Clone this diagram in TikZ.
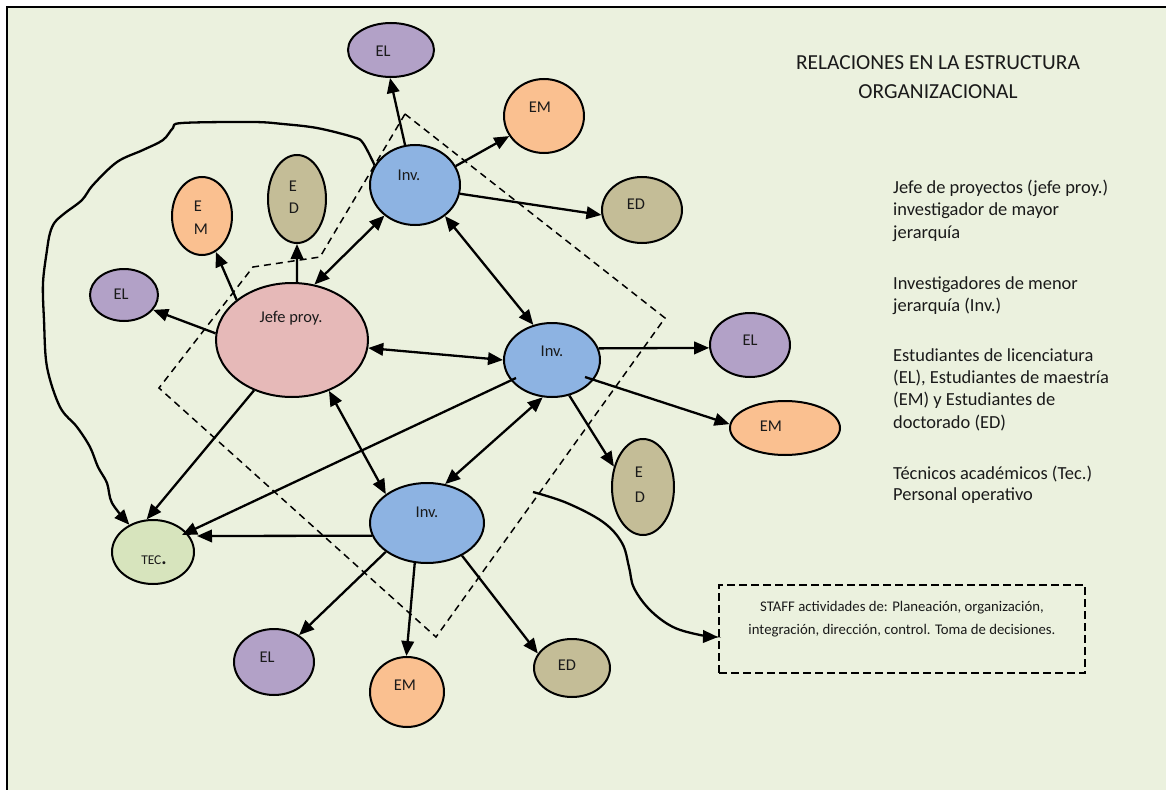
\documentclass[tikz,border=0pt]{standalone}
\usepackage{fontspec}
\setmainfont{Carlito}
\usetikzlibrary{arrows.meta,calc,shapes.geometric}

\definecolor{bgGreen}{HTML}{EBF1DE}
\definecolor{cPur}{HTML}{B2A1C7}
\definecolor{cOra}{HTML}{FAC090}
\definecolor{cTan}{HTML}{C4BD97}
\definecolor{cBlu}{HTML}{8DB3E2}
\definecolor{cPnk}{HTML}{E6B9B8}
\definecolor{cTec}{HTML}{D7E4BD}
\definecolor{ink}{HTML}{1A1A1A}

\begin{document}
\begin{tikzpicture}[x=1bp, y=-1bp,
  bub/.style={ellipse, draw=black, line width=2bp, inner sep=0pt},
  lab/.style={inner sep=0pt, text height=10.6bp, text depth=0pt, text=ink,
              font=\fontsize{16.5}{18}\selectfont},
  tip/.tip={Triangle[length=15bp,width=12.5bp]},
  link/.style={line width=2.3bp, -tip},
  dlink/.style={line width=2.3bp, tip-tip},
  zone/.style={line width=1.5bp, dash pattern=on 7bp off 5bp},
  legend/.style={inner sep=0pt, text=ink, font=\fontsize{18.5}{22}\selectfont},
  heading/.style={inner sep=0pt, text=ink, font=\fontsize{21.5}{26}\selectfont},
  stafftxt/.style={inner sep=0pt, text=ink, font=\fontsize{14.8}{18}\selectfont},
  staffbox/.style={draw=black, line width=2bp, dash pattern=on 8bp off 4bp, inner sep=0pt}
]
\useasboundingbox (0,0) rectangle (1166,790);
\fill[white] (0,0) rectangle (1166,790);
\begin{scope}
  \clip (0,0) rectangle (1166,790);
  \draw[line width=2.5bp, fill=bgGreen] (7,7) rectangle (1185,805);
\end{scope}

% dashed zone around the research team
\draw[zone] (405,114) -- (320,257) -- (253,267) -- (159,388) -- (436,637) -- (665,318) -- cycle;

% ellipses
\node[bub, fill=cPur, minimum width=86bp, minimum height=54bp] (elT)  at (391,50)  {};
\node[bub, fill=cOra, minimum width=80bp, minimum height=74bp] (emT)  at (544,116) {};
\node[bub, fill=cBlu, minimum width=90bp, minimum height=80bp] (invT) at (415,185) {};
\node[bub, fill=cTan, minimum width=80bp, minimum height=66bp] (edTR) at (642,210) {};
\node[bub, fill=cTan, minimum width=58bp, minimum height=88bp] (edV1) at (297,199) {};
\node[bub, fill=cOra, minimum width=60bp, minimum height=78bp] (emV1) at (202,216) {};
\node[bub, fill=cPur, minimum width=68bp, minimum height=52bp] (elL)  at (124,295) {};
\node[bub, fill=cPnk, minimum width=152bp, minimum height=114bp] (jefe) at (292,340) {};
\node[bub, fill=cBlu, minimum width=96bp, minimum height=74bp] (invM) at (552,360) {};
\node[bub, fill=cPur, minimum width=80bp, minimum height=64bp] (elR)  at (750,345) {};
\node[bub, fill=cOra, minimum width=110bp, minimum height=54bp] (emR) at (785,428) {};
\node[bub, fill=cTan, minimum width=62bp, minimum height=96bp] (edV2) at (643,487) {};
\node[bub, fill=cBlu, minimum width=114bp, minimum height=80bp] (invB) at (427,523) {};
\node[bub, fill=cPur, minimum width=80bp, minimum height=66bp] (elB)  at (274,662) {};
\node[bub, fill=cOra, minimum width=74bp, minimum height=70bp] (emB)  at (407,692) {};
\node[bub, fill=cTan, minimum width=76bp, minimum height=58bp] (edB)  at (572,668) {};
\node[bub, fill=cTec, minimum width=82bp, minimum height=64bp] (tec)  at (153,552) {};

% labels inside the ellipses
\node[lab] (elT-t)  at (383,51)  {EL};
\node[lab] (emT-t)  at (540,107) {EM};
\node[lab] (invT-t) at (409,175) {Inv.};
\node[lab] (edTR-t) at (636,204) {ED};
\node[lab] (edV1-a) at (293,186) {E};
\node[lab] (edV1-b) at (294,208) {D};
\node[lab] (emV1-a) at (198,206) {E};
\node[lab] (emV1-b) at (201,229) {M};
\node[lab] (elL-t)  at (121,294) {EL};
\node[lab] (jefe-t) at (291,317) {Jefe proy.};
\node[lab] (invM-t) at (552,351) {Inv.};
\node[lab] (elR-t)  at (750,340) {EL};
\node[lab] (emR-t)  at (771,426) {EM};
\node[lab] (edV2-a) at (639,472) {E};
\node[lab] (edV2-b) at (640,497) {D};
\node[lab] (invB-t) at (427,512) {Inv.};
\node[lab] (elB-t)  at (267,657) {EL};
\node[lab] (emB-t)  at (405,685) {EM};
\node[lab] (edB-t)  at (567,665) {ED};
\node[inner sep=0pt, text=ink, anchor=base, font=\fontsize{13.5}{15}\selectfont] (tec-t) at (154,564)
  {TEC{\fontsize{20}{20}\selectfont\bfseries .}};

% connectors
\draw[link]  (invT.104)  -- (elT.268);
\draw[link]  (invT.25.6) -- (emT.210);
\draw[link]  (invT.349)  -- (edTR.187);
\draw[dlink] (jefe.68)   -- (invT.225);
\draw[link]  (jefe.85)   -- (edV1.270);
\draw[link]  (jefe.144)  -- (emV1.291);
\draw[link]  (jefe.175)  -- (elL.333);
\draw[dlink] (jefe.354)  -- (invM.180);
\draw[dlink] (invT.314)  -- (invM.118);
\draw[link]  (invM.14)   -- (elR.184);
\draw[link]  ($(invM)+(33,17)$) -- (emR.176);
\draw[link]  (invM.296)  -- (edV2.145.5);
\draw[dlink] (invM.256)  -- (invB.65);
\draw[dlink] (jefe.306)  -- (invB.145);
\draw[link]  (jefe.233)  -- (tec.101);
\draw[link]  ($(invM)+(-36,18)$) -- ($(tec)+(29,-17)$);
\draw[link]  (invB.193.3) -- ($(tec)+(44,-16)$);
\draw[link]  (invB.215.5) -- (elB.47.4);
\draw[link]  (invB.253.7) -- (emB.91.6);
\draw[link]  (invB.317.6) -- (edB.157.5);

% hand-drawn loop from the upper researcher to the technician
\draw[link] plot[smooth, tension=0.55] coordinates {(invT.154) (363,143) (353,137) (317,128)
  (283,124) (253,122) (182,123) (173,128) (163,140) (143,150) (117,162) (93,185) (82,200)
  (65,213) (55,222) (50,233) (47,250) (43,283) (44,320) (47,367) (60,407) (77,427) (90,447)
  (98,467) (107,483) (112,503) (tec.131)};

% staff box
\node[staffbox, minimum width=366bp, minimum height=88bp] (staff) at (902,629) {};
\node[stafftxt, anchor=base] (staff1) at (902,611.5) {STAFF actividades de: Planeación, organización,};
\node[stafftxt, anchor=base] (staff2) at (902,634) {integración, dirección, control. Toma de decisiones.};
\coordinate (sStart) at (533,492);
\coordinate (sEnd) at ($(staff.west)+(0,8)$);
\draw[link] plot[smooth, tension=0.6] coordinates {(sStart) (567,503) (603,522) (622,543)
  (629,567) (634,588) (650,610) (673,627) (700,635) (sEnd)};

% title
\node[heading, anchor=base] (title1) at (938,69.5) {RELACIONES EN LA ESTRUCTURA};
\node[heading, anchor=base] (title2) at (938,99) {ORGANIZACIONAL};

% legend
\foreach \yy/\ltext [count=\i] in {
  193/{Jefe de proyectos (jefe proy.)},
  215.5/{investigador de mayor},
  238/{jerarquía},
  289.3/{Investigadores de menor},
  311/{jerarquía (Inv.)},
  361/{Estudiantes de licenciatura},
  383.3/{(EL), Estudiantes de maestría},
  405.7/{(EM) y Estudiantes de},
  428.3/{doctorado (ED)},
  479/{Técnicos académicos (Tec.)},
  500.7/{Personal operativo}}
  \node[legend, anchor=base west] (leg\i) at (893,\yy) {\ltext};
\end{tikzpicture}
\end{document}
